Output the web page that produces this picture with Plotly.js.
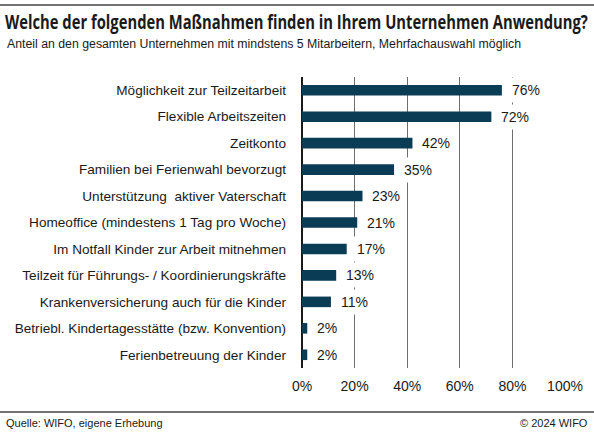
<!DOCTYPE html>
<html>
<head>
<meta charset="utf-8">
<script src="https://cdn.plot.ly/plotly-3.0.1.min.js"></script>
<style>html,body{margin:0;padding:0;background:#fff;}#chart{width:594px;height:438px;}</style>
</head>
<body>
<div id="chart"></div>
<script>
const categories = [
  "Möglichkeit zur Teilzeitarbeit",
  "Flexible Arbeitszeiten",
  "Zeitkonto",
  "Familien bei Ferienwahl bevorzugt",
  "Unterstützung\u00a0 aktiver Vaterschaft",
  "Homeoffice (mindestens 1 Tag pro Woche)",
  "Im Notfall Kinder zur Arbeit mitnehmen",
  "Teilzeit für Führungs- / Koordinierungskräfte",
  "Krankenversicherung auch für die Kinder",
  "Betriebl. Kindertagesstätte (bzw. Konvention)",
  "Ferienbetreuung der Kinder"
];
const values = [76, 72, 42, 35, 23, 21, 17, 13, 11, 2, 2];
const tickValues = [0, 20, 40, 60, 80, 100];
const tickLabels = ["0%", "20%", "40%", "60%", "80%", "100%"];
const titleText = "Welche der folgenden Maßnahmen finden in Ihrem Unternehmen Anwendung?";
const subtitleText = "Anteil an den gesamten Unternehmen mit mindstens 5 Mitarbeitern, Mehrfachauswahl möglich";
const sourceText = "Quelle: WIFO, eigene Erhebung";
const copyrightText = "© 2024 WIFO";

const labelFont = "Liberation Sans, Arial, sans-serif";
const titleFont = "Open Sans, Noto Sans, sans-serif";
const textColor = "#1a1a1a";

const W = 594, H = 438;
const M = {l: 302, r: 29, t: 77, b: 70};
const pw = W - M.l - M.r, ph = H - M.t - M.b;
const px = x => (x - M.l) / pw;
const py = y => (H - M.b - y) / ph;

const trace = {
  type: "bar",
  orientation: "h",
  x: values,
  y: categories,
  width: 0.4,
  marker: {color: "#0b3c55"},
  hoverinfo: "none"
};

const valueAnnotations = values.map((v, i) => ({
  x: v, y: categories[i], xref: "x", yref: "y",
  text: v + "%", showarrow: false,
  xanchor: "left", yanchor: "middle", xshift: 5,
  bgcolor: "#ffffff", borderpad: 4, borderwidth: 1, bordercolor: "rgba(0,0,0,0)",
  font: {family: labelFont, size: 14, color: textColor}
}));

const layout = {
  width: W, height: H,
  margin: M,
  paper_bgcolor: "#ffffff",
  plot_bgcolor: "#ffffff",
  showlegend: false,
  title: {
    text: titleText,
    x: 5 / W, xref: "container", xanchor: "left",
    y: 1 - 22 / H, yref: "container", yanchor: "middle",
    font: {family: titleFont, size: 20, weight: 700, color: textColor}
  },
  xaxis: {
    range: [0, 100],
    tickvals: tickValues, ticktext: tickLabels,
    showgrid: true, gridcolor: "#6e6e6e", gridwidth: 1,
    zeroline: true, zerolinecolor: "#1a1a1a", zerolinewidth: 1.5,
    showline: false, ticks: "",
    ticklabelstandoff: 8,
    tickfont: {family: labelFont, size: 14, color: textColor},
    fixedrange: true
  },
  yaxis: {
    autorange: "reversed",
    showgrid: false, zeroline: false, showline: false, ticks: "",
    ticklabelstandoff: 15,
    tickfont: {family: labelFont, size: 13.6, color: textColor},
    fixedrange: true
  },
  annotations: valueAnnotations.concat([
    {xref: "paper", yref: "paper", x: px(5), y: py(44), xanchor: "left", yanchor: "middle",
     text: subtitleText, showarrow: false,
     font: {family: labelFont, size: 12.3, color: textColor}},
    {xref: "paper", yref: "paper", x: px(4), y: py(423), xanchor: "left", yanchor: "middle",
     text: sourceText, showarrow: false,
     font: {family: labelFont, size: 11, color: textColor}},
    {xref: "paper", yref: "paper", x: px(590), y: py(423), xanchor: "right", yanchor: "middle",
     text: copyrightText, showarrow: false,
     font: {family: labelFont, size: 11, color: textColor}}
  ]),
  shapes: [
    {type: "line", xref: "paper", yref: "paper", x0: px(0), x1: px(W), y0: py(5), y1: py(5),
     line: {color: "#444444", width: 1.5}},
    {type: "line", xref: "paper", yref: "paper", x0: px(0), x1: px(W), y0: py(412), y1: py(412),
     line: {color: "#444444", width: 1.5}}
  ]
};

Plotly.newPlot("chart", [trace], layout, {displayModeBar: false, staticPlot: true}).then(gd => {
  // condense the title horizontally to the reference width (text stays real text)
  const t = gd.querySelector(".gtitle");
  if (t) {
    const w = t.getComputedTextLength();
    const x0 = parseFloat(t.getAttribute("x")) || 5;
    const s = 583 / w;
    const prev = t.getAttribute("transform") || "";
    t.setAttribute("transform", prev + " translate(" + x0 + ",0) scale(" + s + ",1) translate(" + (-x0) + ",0)");
  }
});
</script>
</body>
</html>
